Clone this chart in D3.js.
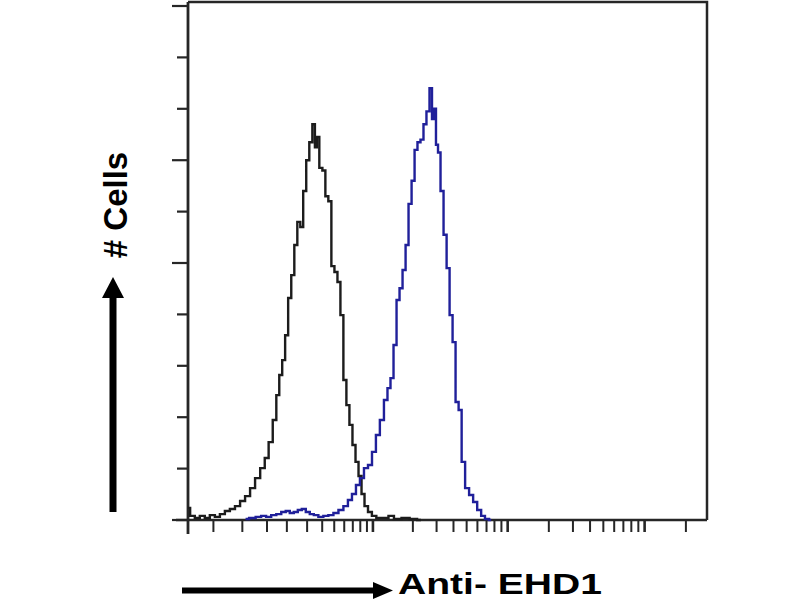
<!DOCTYPE html>
<html>
<head>
<meta charset="utf-8">
<script src="https://cdn.jsdelivr.net/npm/d3@7"></script>
<style>
  html, body { margin: 0; padding: 0; background: #fff; }
  svg { display: block; }
</style>
</head>
<body>
<div id="chart"></div>
<script>
// fluorescence intensity (bin position) and event counts
const controlX = [0, 0.35, 0.8, 1.27, 1.8, 2.37, 3.0, 3.67, 4.4, 5.2, 6.1, 7.05, 8.07, 9.2, 10.4,
  11.8, 12.9, 14.1, 15.5, 16.5, 17.6, 18.7, 19.9, 21.2, 22.6, 24.0, 25.5, 27.0, 28.6, 30.4,
  32.2, 34.2, 35.5, 36.8, 39.0, 41.3, 43.6, 46.1, 48.8, 51.6, 54.5, 57.5, 60.7, 64.1, 67.7,
  71.5, 75.5, 79.6, 84.0, 88.5, 95.0, 101.5, 111, 125.7, 137, 152, 178, 201, 230];
const controlCount = [4.7, 1.6, 0.8, 1.6, 0.8, 1.9, 1.2, 2.3, 3.5, 4.3, 5.4, 7.4, 9.3, 12.4, 16.3,
  20.2, 24.1, 30.3, 38.9, 48.6, 56.4, 62.2, 71.9, 86.4, 95.3, 107, 116, 114, 128, 140,
  147, 154, 145, 149, 137, 136, 126, 124, 98.8, 96.5, 92.6, 79.7, 54.5, 44.7, 37.0,
  29.2, 22.6, 17.1, 10.1, 5.4, 3.1, 1.6, 0.8, 0.8, 1.6, 0.4, 0.8, 0.4, 0];

const ehd1X = [7.65, 9.2, 10.7, 12.0, 13.5, 15.1, 16.9, 18.7, 20.4, 22.1, 24.0, 26.0, 28.1,
  30.4, 32.8, 35.5, 39.0, 42.8, 47.0, 51.6, 56.5, 61.8, 66.5, 71.5, 76.7, 82.4, 88.5, 95.0,
  101.9, 109, 117, 125.7, 132.3, 139.6, 147, 155, 163, 172, 181, 190.4, 201, 211, 222,
  234, 246, 259, 273, 282, 292, 302, 313, 329, 347, 365, 384, 404, 425, 448,
  471, 504, 539, 578, 618, 661, 703, 757];
const ehd1Count = [0.4, 0.8, 1.2, 1.6, 1.2, 1.9, 2.3, 3.1, 3.5, 2.7, 3.1, 3.9, 4.3,
  3.1, 2.3, 1.9, 1.2, 1.6, 1.9, 2.7, 3.9, 5.4, 7.8, 10.1, 13.6, 16.3, 20.2, 21.4,
  26.5, 33.1, 38.9, 46.7, 51.3, 55.2, 68.1, 85.6, 90.2, 97.3, 107, 123, 132, 144, 147,
  148, 154, 159, 168, 156, 160, 146, 143, 128, 111, 98, 79.7, 69.2, 45.9, 42.8,
  22.6, 12.4, 9.7, 7.0, 3.9, 1.6, 0.4, 0];

const xTicks = [0, 2.5, 7, 13, 20, 30, 40, 50, 60, 70, 80, 90,
  100, 200, 300, 400, 500, 600, 700, 800, 900,
  1000, 2000, 3000, 4000, 5000, 6000, 7000, 8000, 9000,
  10000, 20000];
const xMajorTicks = [100, 1000, 10000];
const yTicks = [0, 20, 40, 60, 80, 100, 120, 140, 160, 180, 200];
const yLongTicks = [0, 100, 140, 200];

const width = 800, height = 600;
const plot = { left: 188, right: 707, top: 2, bottom: 520 };
const axisColor = '#262626';

const svg = d3.select('#chart').append('svg')
  .attr('width', width)
  .attr('height', height);

const x = d3.scaleSymlog()
  .constant(4.7)
  .domain([0, 28500])
  .range([plot.left, plot.right]);

const y = d3.scaleLinear()
  .domain([0, 200])
  .range([plot.bottom, 6]);

// frame (top + right)
svg.append('path')
  .attr('d', `M${plot.left},${plot.top} H${plot.right} V${plot.bottom}`)
  .attr('fill', 'none')
  .attr('stroke', axisColor)
  .attr('stroke-width', 2.5);

// x axis
svg.append('line')
  .attr('x1', 176).attr('x2', plot.right)
  .attr('y1', plot.bottom).attr('y2', plot.bottom)
  .attr('stroke', axisColor)
  .attr('stroke-width', 2.5);

svg.append('g').selectAll('line')
  .data(xTicks)
  .enter().append('line')
  .attr('x1', d => x(d)).attr('x2', d => x(d))
  .attr('y1', plot.bottom).attr('y2', plot.bottom + 12)
  .attr('stroke', axisColor)
  .attr('stroke-width', d => xMajorTicks.includes(d) ? 2.6 : 2);

// y axis
svg.append('line')
  .attr('x1', plot.left).attr('x2', plot.left)
  .attr('y1', plot.top).attr('y2', plot.bottom + 14)
  .attr('stroke', axisColor)
  .attr('stroke-width', 2.8);

svg.append('g').selectAll('line')
  .data(yTicks)
  .enter().append('line')
  .attr('x1', d => yLongTicks.includes(d) ? 172 : 177)
  .attr('x2', plot.left)
  .attr('y1', d => y(d)).attr('y2', d => y(d))
  .attr('stroke', axisColor)
  .attr('stroke-width', 2.2);

// histograms
const line = d3.line()
  .x(d => x(d[0]))
  .y(d => y(d[1]))
  .curve(d3.curveStep);

svg.append('path')
  .datum(d3.zip(controlX, controlCount))
  .attr('d', line)
  .attr('fill', 'none')
  .attr('stroke', '#1c1c1c')
  .attr('stroke-width', 2.4);

svg.append('path')
  .datum(d3.zip(ehd1X, ehd1Count))
  .attr('d', line)
  .attr('fill', 'none')
  .attr('stroke', '#20209a')
  .attr('stroke-width', 2.4);

// y label with arrow
svg.append('path')
  .attr('d', 'M109.5,512 V298 H102 L113,277 L124,298 H116.5 V512 Z')
  .attr('fill', '#000');

svg.append('text')
  .attr('transform', 'translate(127,205) rotate(-90)')
  .attr('text-anchor', 'middle')
  .attr('font-family', 'Liberation Sans, Arial, sans-serif')
  .attr('font-weight', 'bold')
  .attr('font-size', 33)
  .attr('fill', '#000')
  .text('# Cells');

// x label with arrow
svg.append('path')
  .attr('d', 'M182,587.5 H373 V582 L393,590.5 L373,599 V593.5 H182 Z')
  .attr('fill', '#000');

svg.append('text')
  .attr('x', 398)
  .attr('y', 593.5)
  .attr('font-family', 'Liberation Sans, Arial, sans-serif')
  .attr('font-weight', 'bold')
  .attr('font-size', 29)
  .attr('fill', '#000')
  .attr('textLength', 204)
  .attr('lengthAdjust', 'spacingAndGlyphs')
  .text('Anti- EHD1');
</script>
</body>
</html>
